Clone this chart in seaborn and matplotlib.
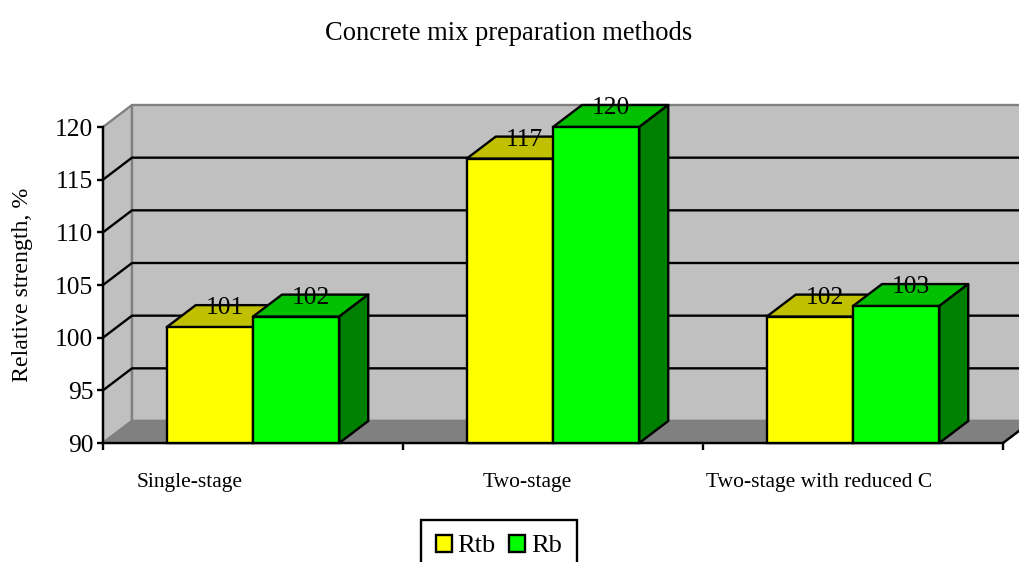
import seaborn as sns
import matplotlib.pyplot as plt
import numpy as np
import pandas as pd
from matplotlib.patches import Polygon

categories = ['Single-stage', 'Two-stage', 'Two-stage with reduced C']
rtb_values = [101, 117, 102]
rb_values = [102, 120, 103]
series_names = ['Rtb', 'Rb']

df = pd.DataFrame({
    'method': categories * 2,
    'strength': rtb_values + rb_values,
    'series': [series_names[0]] * 3 + [series_names[1]] * 3,
})

sns.set_style('white')
plt.rcParams['font.family'] = ['Liberation Serif', 'DejaVu Serif']

front_colors = {'Rtb': '#ffff00', 'Rb': '#00ff00'}
top_colors = ['#c0c000', '#00c000']
side_colors = ['#808000', '#008000']
line_w = 1.7
depth_px = np.array([29, 22])   # how far the fake 3D back plane sits

fig = plt.figure(figsize=(10.2, 5.62), dpi=100)
ax = fig.add_axes([103 / 1020, 119 / 562, 900 / 1020, 316 / 562])
ax.patch.set_visible(False)

sns.barplot(data=df, x='method', y='strength', hue='series', palette=front_colors,
            width=0.575, saturation=1, edgecolor='black', linewidth=line_w,
            gap=0, ax=ax)
ax.set_xlim(-0.5, 2.5)
ax.set_ylim(90, 120)


def to_back(x, y):
    # same point pushed onto the back plane, still in data coordinates
    px = ax.transData.transform((x, y)) + depth_px
    return ax.transData.inverted().transform(px)


def face(points, color, edge='black', z=1, lw=line_w):
    ax.add_patch(Polygon(points, closed=True, facecolor=color, edgecolor=edge,
                         linewidth=lw, joinstyle='round', clip_on=False, zorder=z))


x0, x1 = ax.get_xlim()
y0, y1 = ax.get_ylim()

# walls and floor
face([(x0, y0), (x0, y1), to_back(x0, y1), to_back(x0, y0)], '#c0c0c0', '#808080', 0.5)
face([to_back(x0, y0), to_back(x0, y1), to_back(x1, y1), to_back(x1, y0)], '#c0c0c0', '#808080', 0.5)
face([(x0, y0), (x1, y0), to_back(x1, y0), to_back(x0, y0)], '#808080', '#808080', 0.6)
ax.plot(*zip((x1, y0), to_back(x1, y0)), color='black', lw=line_w, clip_on=False, zorder=0.7)

# gridlines bend round the side wall
for val in np.arange(95, 120, 5):
    pts = [(x0, val), to_back(x0, val), to_back(x1, val)]
    ax.plot(*zip(*pts), color='black', lw=line_w, clip_on=False, zorder=0.8)

# top and side faces built from the bars seaborn drew
for s, bars in enumerate(ax.containers):
    for c, bar in enumerate(bars):
        z = 3 + c * 3 + s * 0.5
        left, right = bar.get_x(), bar.get_x() + bar.get_width()
        top = bar.get_height() + bar.get_y()
        face([(left, top), (right, top), to_back(right, top), to_back(left, top)], top_colors[s], z=z)
        face([(right, y0), (right, top), to_back(right, top), to_back(right, y0)], side_colors[s], z=z)
        # bars start at zero, cut them at the axis floor so the edge stays visible
        bar.set_y(y0)
        bar.set_height(top - y0)
        bar.set_zorder(z + 0.1)
        bar.set_clip_on(False)
        ax.annotate(f'{top:.0f}', (left + bar.get_width() / 2, top),
                    xytext=(15, 19), textcoords='offset pixels',
                    ha='center', va='center', fontsize=18.4, color='black',
                    zorder=30, annotation_clip=False)

sns.despine(ax=ax)
for side in ['left', 'bottom']:
    ax.spines[side].set_linewidth(line_w)
    ax.spines[side].set_color('black')
    ax.spines[side].set_zorder(2)

ax.set_yticks(np.arange(90, 121, 5))
ax.set_xticks([-0.5, 0.5, 1.5, 2.5], ['', '', '', ''])
ax.tick_params(axis='y', left=True, length=4.5, width=line_w, labelsize=18.4, pad=2.5, color='black', labelcolor='black')
ax.tick_params(axis='x', bottom=True, length=5, width=line_w, color='black')
ax.set_xlabel('')
ax.set_ylabel('Relative strength, %', fontsize=17.2, color='black')
ax.yaxis.set_label_coords(-0.078, 0.5)

label_shift_px = [-63, -26, -34]
for i, name in enumerate(categories):
    ax.annotate(name, (i, y0), xytext=(label_shift_px[i], -39), textcoords='offset pixels',
                ha='center', va='center', fontsize=15.5, color='black', annotation_clip=False)

fig.text(509 / 1020, 1 - 33 / 562, 'Concrete mix preparation methods', ha='center', va='center',
         fontsize=19.1, color='black')

leg = ax.legend(loc='upper left', bbox_to_anchor=(421 / 1020, 1 - 520 / 562),
                bbox_transform=fig.transFigure, frameon=True, fancybox=False,
                fontsize=19, labelcolor='black', ncol=2, handlelength=0.62, handleheight=0.62,
                handletextpad=0.22, columnspacing=0.5, borderpad=0.55,
                borderaxespad=0, edgecolor='black', framealpha=1, title=None)
leg.get_frame().set_linewidth(line_w)
leg.set_zorder(40)

fig.savefig('out.png', dpi=100)
